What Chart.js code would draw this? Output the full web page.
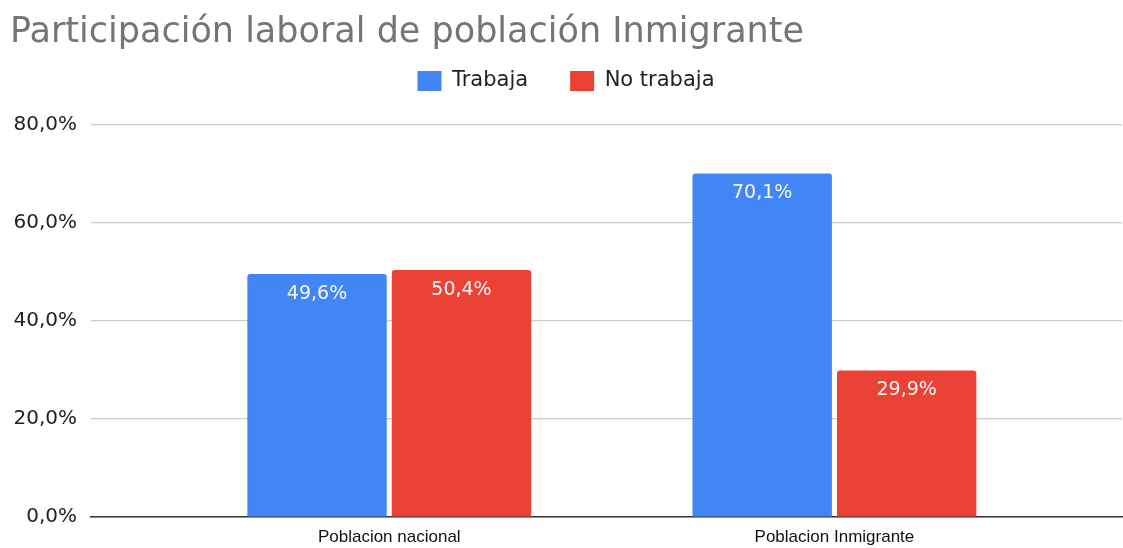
<!DOCTYPE html>
<html>
<head>
<meta charset="utf-8">
<script src="https://cdn.jsdelivr.net/npm/chart.js@4"></script>
<style>
  html, body { margin: 0; padding: 0; background: #fff; }
  #wrap { width: 1123px; height: 548px; }
</style>
</head>
<body>
<div id="wrap"><canvas id="partGraph"></canvas></div>
<script>
// data
const categories = ["Poblacion nacional", "Poblacion Inmigrante"];
const trabaja = [49.6, 70.1];
const noTrabaja = [50.4, 29.9];
const yTicks = [0, 20, 40, 60, 80];

const fmt = (v) => v.toFixed(1).replace(".", ",") + "%";
const wide = "'DejaVu Sans', sans-serif";

// labels inside the top of each bar
const barLabels = {
  id: "barLabels",
  afterDatasetsDraw(chart) {
    const ctx = chart.ctx;
    ctx.save();
    ctx.font = "19px " + wide;
    ctx.fillStyle = "rgba(255,255,255,0.95)";
    ctx.textAlign = "center";
    ctx.textBaseline = "middle";
    chart.data.datasets.forEach((ds, i) => {
      chart.getDatasetMeta(i).data.forEach((bar, j) => {
        ctx.fillText(fmt(ds.data[j].y), bar.x, bar.y + 20);
      });
    });
    ctx.restore();
  }
};

// extra room under the legend
const legendGap = {
  id: "legendGap",
  beforeInit(chart) {
    const fit = chart.legend.fit;
    chart.legend.fit = function () {
      fit.bind(chart.legend)();
      this.height += 23.5;
    };
  }
};

const toPoints = (arr) => arr.map((v, i) => ({ x: i, y: v }));

const data = {
  datasets: [
    {
      label: "Trabaja",
      data: toPoints(trabaja),
      backgroundColor: "#4285F4",
      borderRadius: { topLeft: 3, topRight: 3 },
      borderSkipped: "start",
    },
    {
      label: "No trabaja",
      data: toPoints(noTrabaja),
      backgroundColor: "#EA4335",
      borderRadius: { topLeft: 3, topRight: 3 },
      borderSkipped: "start",
    },
  ],
};

const config = {
  type: "bar",
  data,
  plugins: [barLabels, legendGap],
  options: {
    responsive: true,
    maintainAspectRatio: false,
    animation: false,
    categoryPercentage: 0.649,
    barPercentage: 0.965,
    layout: { padding: { left: 10, right: 1, top: 0, bottom: 0 } },
    plugins: {
      title: {
        display: true,
        text: "Participación laboral de población Inmigrante",
        align: "start",
        color: "#757575",
        font: { family: wide, size: 35, weight: "normal" },
        padding: { top: 12, bottom: -25.5 },
      },
      legend: {
        position: "top",
        labels: {
          color: "#222",
          font: { family: wide, size: 21 },
          boxWidth: 24,
          boxHeight: 20,
          padding: 42,
        },
      },
      tooltip: { enabled: false },
    },
    scales: {
      x: {
        type: "linear",
        offset: false,
        min: -0.67,
        max: 1.646,
        afterBuildTicks: (scale) => {
          scale.ticks = categories.map((c, i) => ({ value: i }));
        },
        afterFit: (scale) => { scale.height = 31; },
        grid: { display: false, drawTicks: false },
        border: { display: true, color: "#333", width: 1.5 },
        ticks: {
          color: "#111",
          font: { family: "'Liberation Sans', Arial, sans-serif", size: 17 },
          padding: 10,
          maxRotation: 0,
          autoSkip: false,
          callback: (v) => categories[v],
        },
      },
      y: {
        min: 0,
        max: 80,
        afterBuildTicks: (scale) => {
          scale.ticks = yTicks.map((v) => ({ value: v }));
        },
        afterFit: (scale) => { scale.width = 81; },
        grid: { color: "#cccccc", lineWidth: 1.2, drawTicks: false },
        border: { display: false },
        ticks: {
          color: "#222",
          font: { family: wide, size: 20 },
          padding: 14,
          callback: (v) => fmt(v),
        },
      },
    },
  },
};

const myChart = new Chart(document.getElementById("partGraph"), config);
</script>
</body>
</html>
